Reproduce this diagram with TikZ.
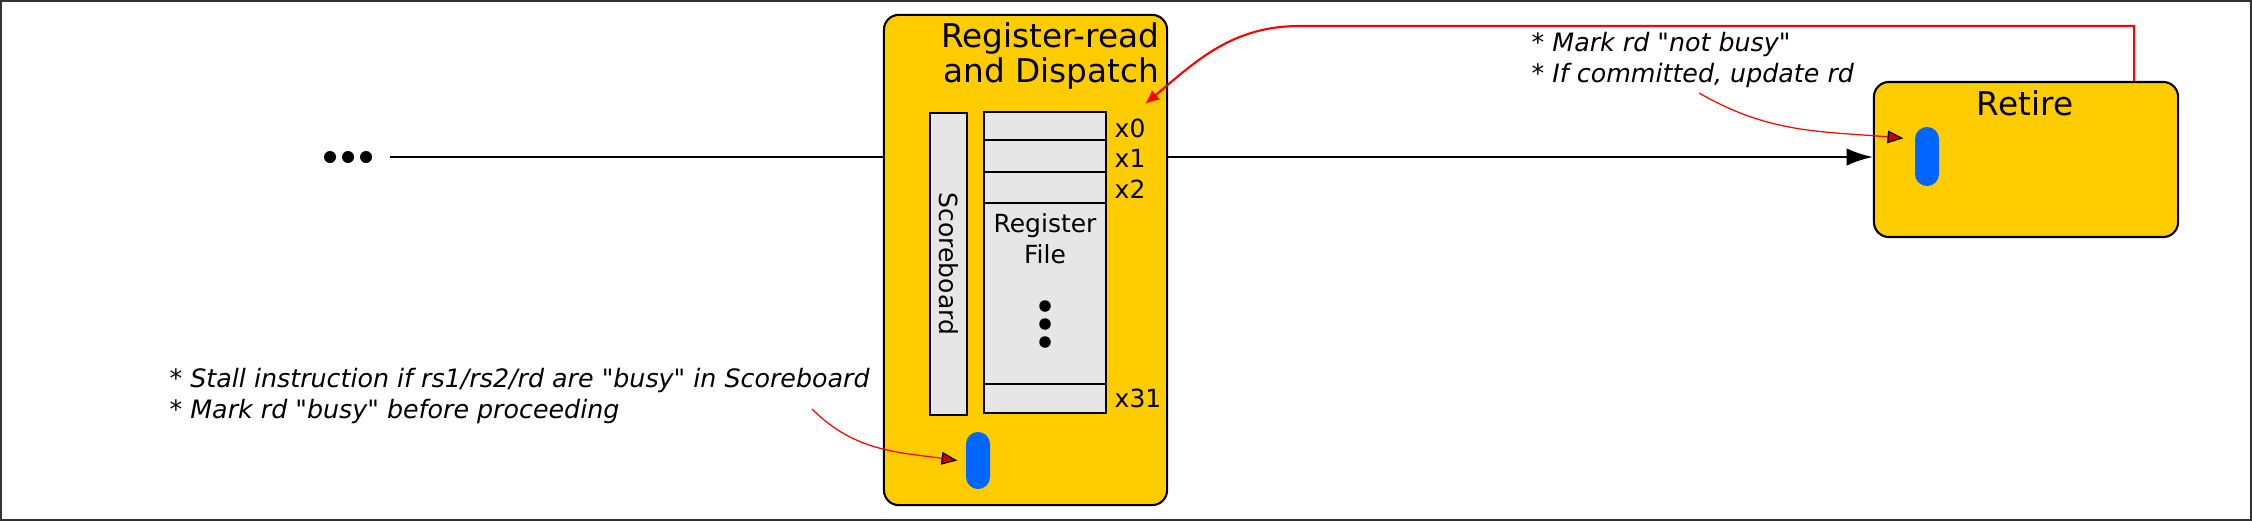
\documentclass[tikz,border=0pt]{standalone}
\usepackage{fontspec}
\setmainfont{DejaVu Sans}
\usetikzlibrary{arrows.meta,positioning}
\definecolor{stagey}{HTML}{FFCC00}
\definecolor{regg}{HTML}{E6E6E6}
\definecolor{tokb}{HTML}{0066FF}
\definecolor{tipr}{HTML}{CC0000}
\begin{document}
\begin{tikzpicture}[x=0.01cm,y=-0.01cm,
	stage/.style={draw,line width=0.6pt,fill=stagey,rounded corners=0.15cm},
	cell/.style={draw,line width=0.6pt,fill=regg,inner sep=0},
	tok/.style={fill=tokb,rounded corners=0.12cm,minimum width=0.24cm,inner sep=0},
	dot/.style={circle,fill,inner sep=0,minimum size=0.115cm},
	big/.style={font=\fontsize{9.3}{9.7}\selectfont,inner sep=0},
	small/.style={font=\fontsize{7.1}{8.6}\selectfont,inner sep=0},
	note/.style={font=\fontsize{7.2}{8.8}\selectfont\itshape,align=left,inner sep=0},
	hint/.style={red,line width=0.35pt,-{Triangle[length=4.5pt,width=3.6pt,color=black,fill=tipr]}}]
		\useasboundingbox (0,0) rectangle (2252,521);
		\draw[black!80,line width=0.6pt] (1,1) rectangle (2251,520);
		
		\node[stage,minimum width=2.83cm,minimum height=4.9cm](rrd) at (1025.5,260) {};
		\node[big,align=right,anchor=base east](rrdname) at (1160,82) {Register-read\\and Dispatch};
		\node[cell,minimum width=0.37cm,minimum height=3.02cm](sb) at (948.5,264) {};
		\node[small,rotate=-90](sbname) at (sb) {Scoreboard};
		\node[cell,minimum width=1.22cm,minimum height=3.01cm](rf) at (1045,262.5) {};
		\foreach \y in {140,172,203,384}
		\draw[line width=0.6pt] (rf.west |- 0,\y) -- (rf.east |- 0,\y);
		\foreach \r/\b in {x0/137,x1/167,x2/198,x31/407}
		\node[small,anchor=base west](lbl\r) at (1114,\b) {\r};
		\node[small,align=center,anchor=base](rfname) at (1045,263) {Register\\File};
		\foreach \i/\y in {1/306,2/324,3/342}
		\node[dot](rfdot\i) at (1045,\y) {};
		\node[tok,minimum height=0.57cm](rrdtok) at (978,460.5) {};
		
		\node[stage,minimum width=3.04cm,minimum height=1.55cm](ret) at (2026,159.5) {};
		\node[big,anchor=base](retname) at (2025,115) {Retire};
		\node[tok,minimum height=0.59cm](rettok) at (1927,156.5) {};
		
		\node[dot,minimum size=0.12cm](d1) at (330,157) {};
		\node[dot,minimum size=0.12cm](d2) at (348,157) {};
		\node[dot,minimum size=0.12cm](d3) at (366,157) {};
		
		\node[note,anchor=base west](retnote) at (1531,82) {* Mark rd \textquotedbl not busy\textquotedbl\\* If committed, update rd};
		\node[note,anchor=base west](stallnote) at (169,418) {* Stall instruction if rs1/rs2/rd are \textquotedbl busy\textquotedbl\ in Scoreboard\\* Mark rd \textquotedbl busy\textquotedbl\ before proceeding};
		\coordinate (retfrom) at (1699,93);
		\coordinate (stallfrom) at (812,409);
		\coordinate (fbtop) at (1300,26);
		\coordinate (rrdin) at (1145,104);
		
		\draw[line width=0.7pt] ([xshift=0.24cm]d3.center) -- (d3 -| rrd.west);
		\draw[line width=0.7pt,-{Latex[length=7.5pt,width=5pt]}] (d3 -| rrd.east) -- (d3 -| ret.west);
		\draw[red,line width=0.6pt,-{Latex[length=4pt,width=3.5pt]}] ([xshift=1.08cm]ret.north) |- (fbtop) to[out=180,in=40] (rrdin);
		\draw[hint] (retfrom) to[out=-30,in=175] ([shift={(-11,12)}]rettok.north west);
		\draw[hint] (stallfrom) to[out=-45,in=172] ([xshift=-0.08cm]rrdtok.west);
		
		\end{tikzpicture}
\end{document}
